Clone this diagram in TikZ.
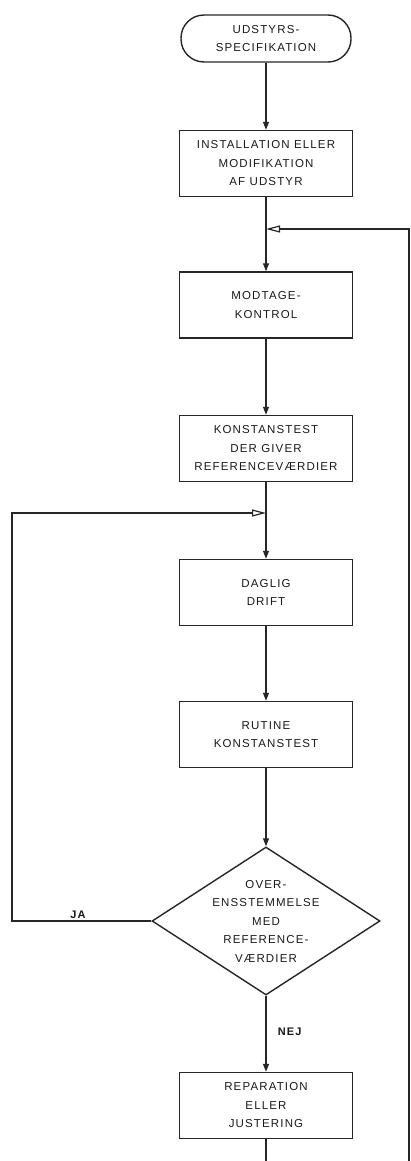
\documentclass[tikz,border=0pt]{standalone}
\usepackage{fontspec}
\newfontfamily\diagfont[LetterSpace=10]{Liberation Sans}
\usetikzlibrary{arrows.meta,shapes.geometric}
\begin{document}
\begin{tikzpicture}[x=1pt,y=-1pt,
  every node/.style={font=\diagfont\fontsize{11.5}{18.5}\selectfont, text=black!90},
  proc/.style={draw=black!85, line width=1.4pt, minimum width=173pt, minimum height=66pt, align=center, inner sep=0pt},
  term/.style={proc, minimum width=170pt, minimum height=47pt, rounded corners=23pt},
  dec/.style={draw=black!85, line width=1.4pt, shape=diamond, minimum width=228pt, minimum height=148pt, inner sep=0pt},
  dectext/.style={align=center, inner sep=0pt},
  flow/.style={draw=black!85, line width=1.2pt, -{Triangle[width=6pt,length=8pt]}},
  backflow/.style={draw=black!85, line width=1.2pt, -{Triangle[open,width=7pt,length=14pt]}},
  plain/.style={draw=black!85, line width=1.2pt},
  lbl/.style={font=\diagfont\fontsize{11}{12}\selectfont\bfseries, text=black!90}
]
\useasboundingbox (0,0) rectangle (410,1161);
\node[term] (spec) at (266,38.5) {UDSTYRS-\\SPECIFIKATION};
\node[proc] (inst) at (266,163.5) {INSTALLATION ELLER\\MODIFIKATION\\AF UDSTYR};
\node[proc] (modt) at (266,305) {MODTAGE-\\KONTROL};
\node[proc] (konst) at (266,448.5) {KONSTANSTEST\\DER GIVER\\REFERENCEVÆRDIER};
\node[proc] (drift) at (266,592.5) {DAGLIG\\DRIFT};
\node[proc] (rutine) at (266,734.5) {RUTINE\\KONSTANSTEST};
\node[dec] (ovr) at (266,921) {};
\node[dectext] (ovrtxt) at (ovr.center) {OVER-\\ENSSTEMMELSE\\MED\\REFERENCE-\\VÆRDIER};
\node[proc] (rep) at (266,1105.5) {REPARATION\\ELLER\\JUSTERING};

\coordinate (j1) at (266,229);
\coordinate (j2) at (266,513);
\coordinate (rtop) at (409,229);
\coordinate (rbot) at (409,1161);
\coordinate (ltop) at (12,513);
\coordinate (repout) at (266,1161);

\draw[flow] (spec.south) -- (inst.north);
\draw[plain] (inst.south) -- (j1);
\draw[flow] (j1) -- (modt.north);
\draw[flow] (modt.south) -- (konst.north);
\draw[plain] (konst.south) -- (j2);
\draw[flow] (j2) -- (drift.north);
\draw[flow] (drift.south) -- (rutine.north);
\draw[flow] (rutine.south) -- (ovr.north);
\draw[flow] (ovr.south) -- node[lbl, right, pos=0.48, xshift=8pt] (nej) {NEJ} (rep.north);
\draw[plain] (rep.south) -- (repout);
\draw[backflow] (ovr.west) -| (ltop) -- (j2);
\draw[backflow] (rbot) -- (rtop) -- (j1);
\node[lbl] (ja) at (78,915) {JA};
\end{tikzpicture}
\end{document}
